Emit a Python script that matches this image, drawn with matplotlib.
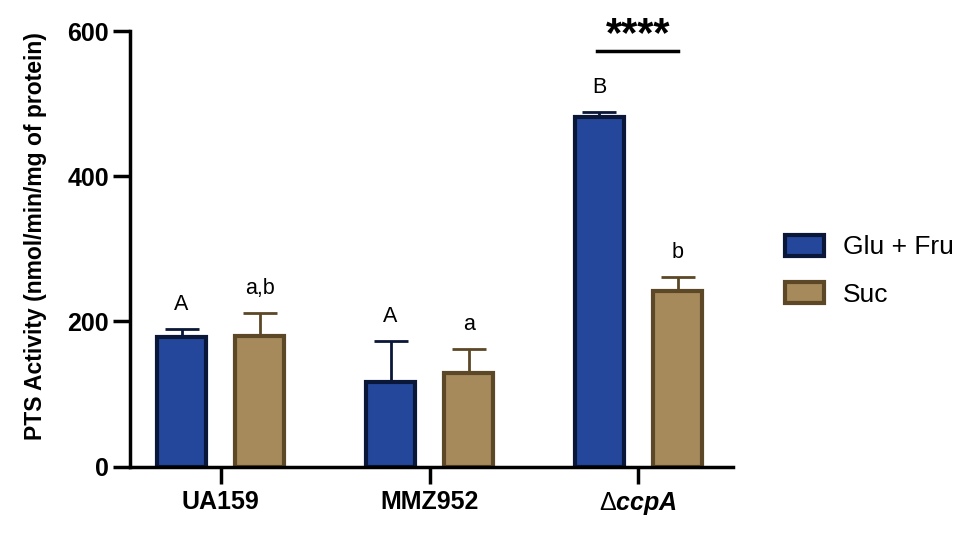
import matplotlib.pyplot as plt
import numpy as np
from matplotlib.patches import Patch

plt.rcParams["font.family"] = ["Liberation Sans", "DejaVu Sans"]
plt.rcParams["mathtext.fontset"] = "custom"
plt.rcParams["mathtext.rm"] = "Liberation Sans"
plt.rcParams["mathtext.bf"] = "Liberation Sans:bold"
plt.rcParams["mathtext.it"] = "Liberation Sans:italic"
plt.rcParams["mathtext.bfit"] = "Liberation Sans:bold:italic"

strains = ["UA159", "MMZ952", r"$\Delta\mathbfit{ccpA}$"]
glu_fru_mean = [179, 117, 481]
glu_fru_err = [10, 56, 7]
suc_mean = [180, 129, 242]
suc_err = [31, 33, 19]
glu_fru_letters = ["A", "A", "B"]
suc_letters = ["a,b", "a", "b"]

blue_fill = "#24479c"
blue_edge = "#0b1738"
tan_fill = "#a68a5c"
tan_edge = "#5c4826"

fig = plt.figure(figsize=(9.75, 5.35), dpi=100)
ax = fig.add_axes([0.1333, 0.1277, 0.618, 0.8143])

x = np.arange(len(strains))
offset = 0.187
width = 0.235

ax.bar(x - offset, glu_fru_mean, width, color=blue_fill, edgecolor=blue_edge,
       linewidth=3, zorder=2)
ax.bar(x + offset, suc_mean, width, color=tan_fill, edgecolor=tan_edge,
       linewidth=3, zorder=2)

# upper error bars only
ax.errorbar(x - offset, glu_fru_mean, yerr=[np.zeros(3), glu_fru_err],
            fmt="none", ecolor=blue_edge, elinewidth=2, capsize=12, capthick=2,
            zorder=1)
ax.errorbar(x + offset, suc_mean, yerr=[np.zeros(3), suc_err],
            fmt="none", ecolor=tan_edge, elinewidth=2, capsize=12, capthick=2,
            zorder=1)

for i in range(len(strains)):
    ax.text(x[i] - offset, glu_fru_mean[i] + glu_fru_err[i] + 20,
            glu_fru_letters[i], ha="center", va="bottom", fontsize=15.5)
    ax.text(x[i] + offset, suc_mean[i] + suc_err[i] + 20,
            suc_letters[i], ha="center", va="bottom", fontsize=15.5)

# significance bar over the ccpA group
ax.plot([x[2] - 0.2, x[2] + 0.19], [572, 572],
        color="black", lw=2.5, clip_on=False)
ax.text(x[2], 594, "****", ha="center", va="center", fontsize=30,
        fontweight="bold", clip_on=False)

ax.set_xlim(-0.434, 2.45)
ax.set_ylim(0, 600)
ax.set_yticks([0, 200, 400, 600])
ax.set_xticks(x)
ax.set_xticklabels(strains, fontsize=18, fontweight="bold")
for lab in ax.get_yticklabels():
    lab.set_fontsize(18)
    lab.set_fontweight("bold")
ax.set_ylabel("PTS Activity (nmol/min/mg of protein)", fontsize=16.5,
              fontweight="bold")
ax.yaxis.set_label_coords(-0.138, 0.53)

ax.spines["top"].set_visible(False)
ax.spines["right"].set_visible(False)
ax.spines["left"].set_linewidth(2.5)
ax.spines["bottom"].set_linewidth(2.5)
ax.tick_params(axis="both", length=12, width=2.5)
ax.tick_params(axis="y", pad=3)
ax.tick_params(axis="x", pad=5)

handles = [
    Patch(facecolor=blue_fill, edgecolor=blue_edge, linewidth=3, label="Glu + Fru"),
    Patch(facecolor=tan_fill, edgecolor=tan_edge, linewidth=3, label="Suc"),
]
fig.legend(handles=handles, loc="center left", bbox_to_anchor=(0.805, 0.494),
           frameon=False, fontsize=19, handlelength=1.5, handleheight=0.85,
           labelspacing=0.85, handletextpad=0.7, borderaxespad=0, borderpad=0)

fig.savefig("out.png", dpi=100)
